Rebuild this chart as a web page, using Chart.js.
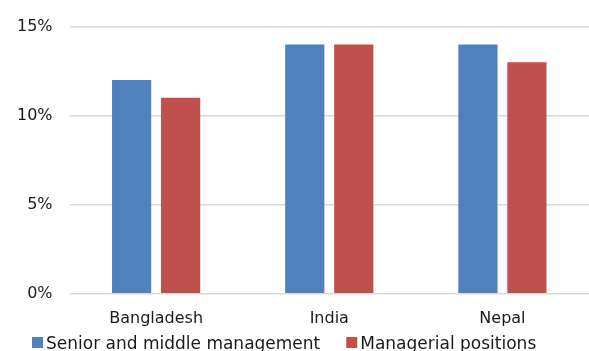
<!DOCTYPE html>
<html>
<head>
<meta charset="utf-8">
<script src="https://cdn.jsdelivr.net/npm/chart.js@4"></script>
<style>
  html, body { margin: 0; padding: 0; background: #fff; }
  #wrap { width: 589px; height: 351px; position: relative; }
</style>
</head>
<body>
<div id="wrap"><canvas id="c"></canvas></div>
<script>
// Countries on the x axis
const countries = ['Bangladesh', 'India', 'Nepal'];
// Share of women (%) in each management group
const seniorMiddle = [12, 14, 14];
const managerial = [11, 14, 13];
// Series names and y tick values
const seriesNames = ['Senior and middle management', 'Managerial positions'];
const yTicks = [0, 5, 10, 15];

const FONT = '"DejaVu Sans", sans-serif';
const TEXT = '#1a1a1a';

// Compact legend row under the axis labels, built from the datasets
const bottomLegend = {
  id: 'bottomLegend',
  afterDraw(chart) {
    const ctx = chart.ctx;
    const y = chart.height - 14;      // square top
    let x = 32;
    ctx.save();
    ctx.font = '17px ' + FONT;
    ctx.textBaseline = 'alphabetic';
    chart.data.datasets.forEach((ds) => {
      ctx.fillStyle = ds.backgroundColor;
      ctx.fillRect(x, y, 11, 11);
      ctx.fillStyle = TEXT;
      ctx.fillText(ds.label, x + 14, y + 12);
      x += 14 + ctx.measureText(ds.label).width + 26;
    });
    ctx.restore();
  }
};

new Chart(document.getElementById('c'), {
  type: 'bar',
  data: {
    labels: countries,
    datasets: [
      { label: seriesNames[0], data: seniorMiddle, backgroundColor: '#4F81BD' },
      { label: seriesNames[1], data: managerial, backgroundColor: '#C0504D' }
    ]
  },
  plugins: [bottomLegend],
  options: {
    responsive: true,
    maintainAspectRatio: false,
    animation: false,
    categoryPercentage: 0.566,
    barPercentage: 0.8,
    layout: { padding: { top: 8, right: 0, left: 0, bottom: 8 } },
    plugins: {
      legend: { display: false },
      tooltip: { enabled: false }
    },
    scales: {
      x: {
        grid: { display: false, drawTicks: false },
        border: { display: false },
        ticks: { color: TEXT, padding: 15, font: { family: FONT, size: 16 } }
      },
      y: {
        min: 0,
        max: 15,
        afterBuildTicks: (axis) => { axis.ticks = yTicks.map(v => ({ value: v })); },
        grid: { color: '#d9d9d9', lineWidth: 1.5, drawTicks: false },
        border: { display: false },
        ticks: {
          color: TEXT,
          padding: 17,
          font: { family: FONT, size: 16 },
          callback: (v) => v + '%'
        }
      }
    }
  }
});
</script>
</body>
</html>
